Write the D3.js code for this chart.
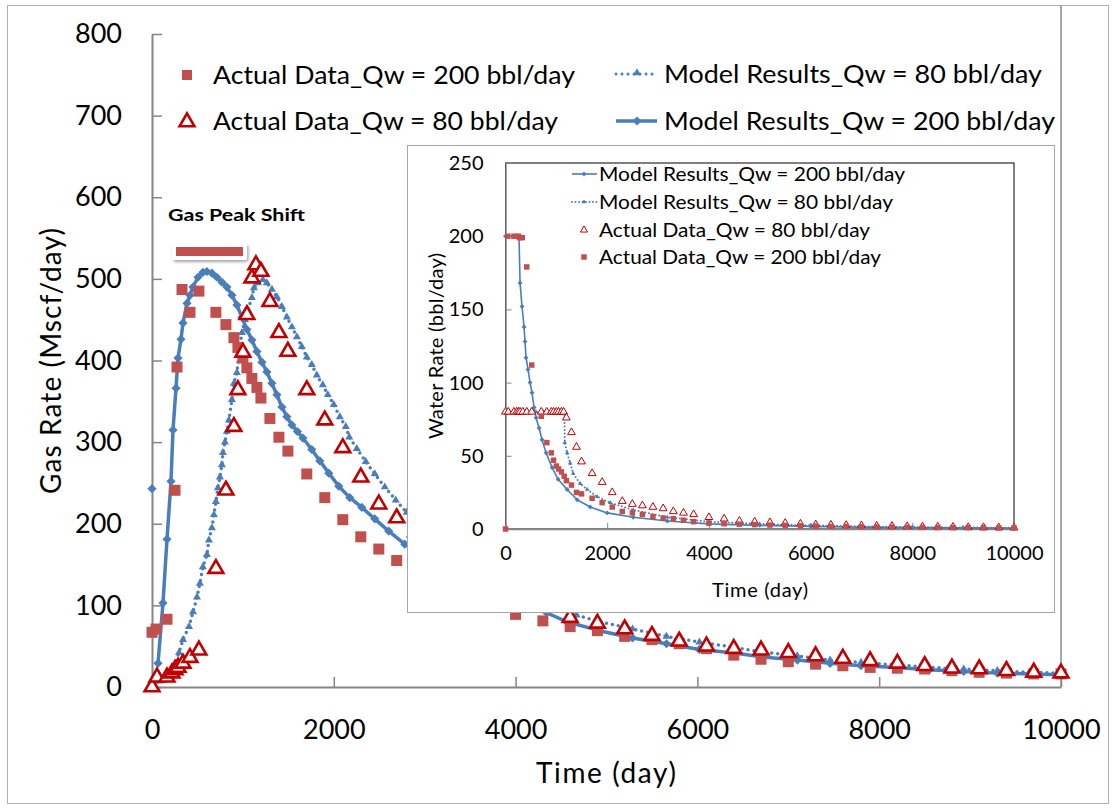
<!DOCTYPE html>
<html>
<head>
<meta charset="utf-8">
<script src="https://cdn.jsdelivr.net/npm/d3@7"></script>
<style>
  body { margin: 0; background: #fff; }
  svg { display: block; }
  text { font-family: Lato, "Liberation Sans", sans-serif; fill: #000; }
</style>
</head>
<body>
<svg width="1115" height="809"></svg>
<script>
//
// data
//

// main chart: gas rate
var model200GasTime = [0,66,121,165,209,231,264,286,319,341,385,418,451,506,560,604,659,714,769,824,879,934,989,1044,1099,1154,1209,1264,1319,1374,1429,1484,1539,1600,1660,1758,1846,1945,2055,2176,2308,2451,2604,2780,3000,3300,3600,4000,4341,4560,4923,5286,5660,6022,6385,6700,7100,7460,7800,8200,8550,8930,9300,9650,10000];
var model200Gas = [243,29,103,181,252,315,366,403,426,446,470,480,490,502,508,509,507,502,496,490,480,468,453,438,425,411,398,386,372,358,343,331,321,313,305,291,277,262,246,232,220,206,191,175,160,142,125,106,91,80,69,60,53,46,42,37,33,29,26,24,21,19,17,16,15];

var model80GasTime = [0,80,165,220,253,297,341,407,451,495,527,560,604,626,659,681,703,725,747,769,780,802,824,846,879,901,934,956,989,1022,1055,1099,1121,1165,1220,1264,1319,1374,1429,1484,1539,1594,1648,1703,1758,1813,1879,1934,2000,2066,2132,2170,2253,2352,2451,2561,2681,2802,3000,3300,3600,4000,4300,4670,4923,5286,5660,6022,6385,6700,7100,7460,7800,8200,8550,8930,9300,9650,10000];
var model80Gas = [3,7,11,21,29,42,58,74,92,110,127,147,162,180,195,211,227,244,257,272,287,300,313,327,352,372,385,409,434,450,462,477,489,495,499,495,487,478,466,453,441,429,417,404,395,382,370,358,346,331,319,306,292,276,261,245,229,214,196,172,150,125,105,88,80,71,62,55,49,43,38,33,30,27,24,22,20,18,17];

var actual200Time = [0,44,165,253,275,330,418,516,703,813,901,945,1000,1044,1099,1154,1198,1297,1396,1495,1703,1901,2099,2297,2495,2692,2900,3100,3300,3500,3700,4000,4300,4600,4900,5200,5500,5800,6100,6400,6700,7000,7300,7600,7900,8200,8500,8800,9100,9400,9700,10000];
var actual200Gas = [67,71,83,241,392,487,459,485,459,444,428,416,403,391,378,367,354,329,306,289,261,232,205,184,169,155,143,132,122,113,103,89,81,74,69,62,58,53,47,39,34,31,28,26,24,23,22,20,18,17,16,16];
var actual200Water = [0,200,200,200,199,199,179,112,77,59,52,47,43,41,39,36,33,30,25,24,21,18,15,12,11,10,8.5,7.5,7,6,5,4,3.6,3.3,3,2.7,2.5,2.2,2,1.8,1.7,1.5,1.4,1.3,1.2,1.1,1,0.9,0.9,0.8,0.7,0.7];

var actual80Time = [0,55,165,220,253,286,341,418,516,703,813,901,945,1000,1044,1099,1143,1198,1297,1396,1495,1703,1901,2099,2297,2495,2692,2900,3100,3300,3500,3700,4000,4300,4600,4900,5200,5500,5800,6100,6400,6700,7000,7300,7600,7900,8200,8500,8800,9100,9400,9700,10000];
var actual80Gas = [0,12,12,17,21,24,29,36,45,145,241,319,364,410,456,501,517,509,472,434,411,364,327,293,257,224,207,190,175,160,145,130,112,100,85,78,71,63,56,50,47,45,42,38,35,32,29,26,23,22,20,18,17];
var actual80Water = [80,80,80,80,80,80,80,80,80,80,80,80,80,80,80,80,80,76,66,56,46,38,32,25,19,17,16,15,14,12,11,10,8,7,5.5,5,4.5,4,3.5,3,2.8,2.6,2.4,2.1,2,1.8,1.6,1.5,1.4,1.2,1.1,1,0.9];

// inset: water rate model results
var model200WaterTime = [0,266,286,325,365,384,404,443,483,522,562,601,660,719,798,916,1034,1212,1409,1665,2000,2512,3182,4000,5000,6000,7000,8000,9000,10000];
var model200Water = [200,200,168,152,138,128,117,109,100,93,83,76,69,61,52,42,34,27,20,15,11,8,5.5,3.5,2.5,1.8,1.3,1,0.8,0.6];
var model80WaterTime = [0,150,300,450,600,750,900,1050,1160,1165,1212,1271,1330,1468,1606,1803,2059,2512,3182,4000,5000,6000,7000,8000,9000,10000];
var model80Water = [80,80,80,80,80,80,80,80,80,59,52,45,38,31,27,22,18,13,8,5,3.5,2.5,1.8,1.3,1,0.8];

var mainXTicks = [0,2000,4000,6000,8000,10000];
var mainYTicks = [0,100,200,300,400,500,600,700,800];
var insetXTicks = [0,2000,4000,6000,8000,10000];
var insetYTicks = [0,50,100,150,200,250];

var mainLegendLeft = ["Actual Data_Qw = 200 bbl/day", "Actual Data_Qw = 80 bbl/day"];
var mainLegendRight = ["Model Results_Qw = 80 bbl/day", "Model Results_Qw = 200 bbl/day"];
var insetLegend = ["Model Results_Qw = 200 bbl/day", "Model Results_Qw = 80 bbl/day",
                   "Actual Data_Qw = 80 bbl/day", "Actual Data_Qw = 200 bbl/day"];

//
// helpers
//

var BLUE = "#4a7ebb", RED_SQ = "#c0504d", RED_TRI = "#c00000", AXIS = "#868686";

function zip(t, v) {
  return t.map(function(d, i) { return [d, v[i]]; });
}

var svg = d3.select("svg");

var defs = svg.append("defs");
var shadow = defs.append("filter").attr("id", "shadow")
  .attr("x", "-20%").attr("y", "-40%").attr("width", "150%").attr("height", "200%");
shadow.append("feDropShadow").attr("dx", 1.5).attr("dy", 2).attr("stdDeviation", 1.5)
  .attr("flood-color", "#000").attr("flood-opacity", 0.35);

// outer chart border
svg.append("rect").attr("x", 7.5).attr("y", 5.5).attr("width", 1101).attr("height", 798)
  .attr("fill", "#fff").attr("stroke", "#b0b0b0");

function diamond(g, s) {
  return g.append("rect").attr("x", -s / 2).attr("y", -s / 2).attr("width", s).attr("height", s)
    .attr("transform", "rotate(45)");
}

function drawSeries(g, x, y, opt) {
  var pts = opt.points;
  var linePts = opt.skipFirst ? pts.slice(1) : pts;
  if (opt.line) {
    g.append("path")
      .datum(linePts)
      .attr("fill", "none")
      .attr("stroke", opt.color)
      .attr("stroke-width", opt.width)
      .attr("stroke-linecap", "round")
      .attr("stroke-linejoin", "round")
      .attr("stroke-dasharray", opt.dash || null)
      .attr("d", d3.line().x(function(d) { return x(d[0]); }).y(function(d) { return y(d[1]); }));
  }
  var mk = g.append("g").selectAll("g").data(pts).join("g")
    .attr("transform", function(d) { return "translate(" + x(d[0]) + "," + y(d[1]) + ")"; });
  if (opt.marker === "diamond") {
    mk.each(function() { diamond(d3.select(this), opt.size).attr("fill", opt.color); });
  } else if (opt.marker === "square") {
    mk.append("path").attr("d", d3.symbol(d3.symbolSquare, opt.size * opt.size)).attr("fill", opt.color);
  } else if (opt.marker === "tri") {
    mk.append("path").attr("d", d3.symbol(d3.symbolTriangle, opt.size)).attr("fill", opt.color);
  } else if (opt.marker === "openTri") {
    mk.append("path").attr("d", d3.symbol(d3.symbolTriangle, opt.size))
      .attr("fill", "#fff").attr("stroke", opt.color).attr("stroke-width", opt.stroke);
  }
}

//
// main chart
//

var x = d3.scaleLinear().domain([0, 10000]).range([152, 1061]);
var y = d3.scaleLinear().domain([0, 800]).range([687, 34]);

var main = svg.append("g");

// right edge of the plot area
main.append("line").attr("x1", 1061).attr("x2", 1061).attr("y1", 5.5).attr("y2", 687)
  .attr("stroke", "#6e6e6e").attr("stroke-width", 1.2);

var yAxis = main.append("g").attr("transform", "translate(152,0)")
  .call(d3.axisLeft(y).tickValues(mainYTicks).tickSizeInner(-10).tickSizeOuter(0).tickPadding(30));
var xAxis = main.append("g").attr("transform", "translate(0,687)")
  .call(d3.axisBottom(x).tickValues(mainXTicks).tickSizeInner(-10).tickSizeOuter(0).tickPadding(33)
    .tickFormat(d3.format("d")));
[yAxis, xAxis].forEach(function(a) {
  a.select(".domain").attr("stroke", AXIS).attr("stroke-width", 2);
  a.selectAll(".tick line").attr("stroke", AXIS).attr("stroke-width", 1.5);
  a.selectAll("text").attr("font-size", 27).attr("font-family", "Lato, sans-serif").attr("fill", "#000");
});

main.append("text").attr("x", 606).attr("y", 783).attr("text-anchor", "middle")
  .attr("font-size", 28).attr("textLength", 140).text("Time (day)");
main.append("text").attr("transform", "translate(61,361) rotate(-90)").attr("text-anchor", "middle")
  .attr("font-size", 28).attr("textLength", 266).text("Gas Rate (Mscf/day)");

var series = main.append("g");
drawSeries(series, x, y, { points: zip(model80GasTime, model80Gas), line: true, color: BLUE, width: 3.5,
  dash: "0,6", marker: "tri", size: 28 });
drawSeries(series, x, y, { points: zip(model200GasTime, model200Gas), line: true, skipFirst: true,
  color: BLUE, width: 3.5, marker: "diamond", size: 6.5 });
drawSeries(series, x, y, { points: zip(actual200Time, actual200Gas), marker: "square", size: 11, color: RED_SQ });
drawSeries(series, x, y, { points: zip(actual80Time, actual80Gas), marker: "openTri", size: 95,
  stroke: 2.6, color: RED_TRI });

// main legend
var leg = main.append("g");
leg.append("path").attr("transform", "translate(187,75)")
  .attr("d", d3.symbol(d3.symbolSquare, 100)).attr("fill", RED_SQ);
leg.append("path").attr("transform", "translate(187,122)")
  .attr("d", d3.symbol(d3.symbolTriangle, 95)).attr("fill", "#fff").attr("stroke", RED_TRI).attr("stroke-width", 2.6);
var leftW = [362, 345];
mainLegendLeft.forEach(function(t, i) {
  leg.append("text").attr("x", 213).attr("y", [75, 121][i] + 9).attr("font-size", 25)
    .attr("textLength", leftW[i]).attr("lengthAdjust", "spacingAndGlyphs").text(t);
});
leg.append("line").attr("x1", 616).attr("x2", 657).attr("y1", 74).attr("y2", 74)
  .attr("stroke", BLUE).attr("stroke-width", 3).attr("stroke-dasharray", "0,6").attr("stroke-linecap", "round");
leg.append("path").attr("transform", "translate(637,73)").attr("d", d3.symbol(d3.symbolTriangle, 28)).attr("fill", BLUE);
leg.append("line").attr("x1", 616).attr("x2", 657).attr("y1", 121).attr("y2", 121)
  .attr("stroke", BLUE).attr("stroke-width", 3.5);
diamond(leg.append("g").attr("transform", "translate(637,121)"), 6.5).attr("fill", BLUE);
var rightW = [378, 391];
mainLegendRight.forEach(function(t, i) {
  leg.append("text").attr("x", 664).attr("y", [74, 121][i] + 9).attr("font-size", 25)
    .attr("textLength", rightW[i]).attr("lengthAdjust", "spacingAndGlyphs").text(t);
});

// gas peak shift note
main.append("text").attr("x", 168).attr("y", 221).attr("font-size", 17).attr("font-weight", "bold")
  .attr("textLength", 137).attr("lengthAdjust", "spacingAndGlyphs").text("Gas Peak Shift");
main.append("rect").attr("x", 172).attr("y", 243).attr("width", 75).attr("height", 17).attr("rx", 3)
  .attr("fill", "#fff").attr("filter", "url(#shadow)");
main.append("rect").attr("x", 176).attr("y", 247).attr("width", 67).attr("height", 9).attr("fill", RED_SQ);

//
// inset chart: water rate
//

var xi = d3.scaleLinear().domain([0, 10000]).range([505.5, 1014]);
var yi = d3.scaleLinear().domain([0, 250]).range([529, 163]);

var inset = svg.append("g");
inset.append("rect").attr("x", 407.5).attr("y", 145.5).attr("width", 647).attr("height", 467)
  .attr("fill", "#fff").attr("stroke", "#a6a6a6");
inset.append("rect").attr("x", 505.5).attr("y", 163).attr("width", 508.5).attr("height", 366)
  .attr("fill", "none").attr("stroke", "#000").attr("stroke-width", 1);

var yiAxis = inset.append("g").attr("transform", "translate(505.5,0)")
  .call(d3.axisLeft(yi).tickValues(insetYTicks).tickSizeInner(-6).tickSizeOuter(0).tickPadding(22));
var xiAxis = inset.append("g").attr("transform", "translate(0,529)")
  .call(d3.axisBottom(xi).tickValues(insetXTicks).tickSizeInner(-6).tickSizeOuter(0).tickPadding(17)
    .tickFormat(d3.format("d")));
[yiAxis, xiAxis].forEach(function(a) {
  a.select(".domain").attr("stroke", AXIS).attr("stroke-width", 1.5);
  a.selectAll(".tick line").attr("stroke", AXIS);
  a.selectAll("text").attr("font-size", 20).attr("font-family", "Lato, sans-serif").attr("fill", "#000");
});
inset.append("text").attr("x", 760).attr("y", 597).attr("text-anchor", "middle")
  .attr("font-size", 20).attr("textLength", 96).text("Time (day)");
inset.append("text").attr("transform", "translate(443,346) rotate(-90)").attr("text-anchor", "middle")
  .attr("font-size", 20).attr("textLength", 186).text("Water Rate (bbl/day)");

var iseries = inset.append("g");
drawSeries(iseries, xi, yi, { points: zip(model80WaterTime, model80Water), line: true, color: BLUE, width: 2,
  dash: "0,3.5", marker: "tri", size: 9 });
drawSeries(iseries, xi, yi, { points: zip(model200WaterTime, model200Water), line: true, color: BLUE,
  width: 1.6, marker: "diamond", size: 3.5 });
drawSeries(iseries, xi, yi, { points: zip(actual80Time, actual80Water), marker: "openTri", size: 26,
  stroke: 1, color: RED_TRI });
drawSeries(iseries, xi, yi, { points: zip(actual200Time, actual200Water), marker: "square", size: 5.5, color: RED_SQ });

// inset legend
var ileg = inset.append("g");
var rowsY = [174, 202, 230, 257];
var iW = [306, 294, 271, 282];
ileg.append("line").attr("x1", 572).attr("x2", 597).attr("y1", rowsY[0]).attr("y2", rowsY[0])
  .attr("stroke", BLUE).attr("stroke-width", 1.6);
diamond(ileg.append("g").attr("transform", "translate(584," + rowsY[0] + ")"), 3.5).attr("fill", BLUE);
ileg.append("line").attr("x1", 572).attr("x2", 597).attr("y1", rowsY[1]).attr("y2", rowsY[1])
  .attr("stroke", BLUE).attr("stroke-width", 2).attr("stroke-dasharray", "0,3.5").attr("stroke-linecap", "round");
ileg.append("path").attr("transform", "translate(584," + rowsY[1] + ")").attr("d", d3.symbol(d3.symbolTriangle, 9)).attr("fill", BLUE);
ileg.append("path").attr("transform", "translate(584," + rowsY[2] + ")")
  .attr("d", d3.symbol(d3.symbolTriangle, 22)).attr("fill", "#fff").attr("stroke", RED_TRI);
ileg.append("path").attr("transform", "translate(584," + rowsY[3] + ")")
  .attr("d", d3.symbol(d3.symbolSquare, 30)).attr("fill", RED_SQ);
insetLegend.forEach(function(t, i) {
  ileg.append("text").attr("x", 599).attr("y", rowsY[i] + 7).attr("font-size", 20)
    .attr("textLength", iW[i]).attr("lengthAdjust", "spacingAndGlyphs").text(t);
});
</script>
</body>
</html>
